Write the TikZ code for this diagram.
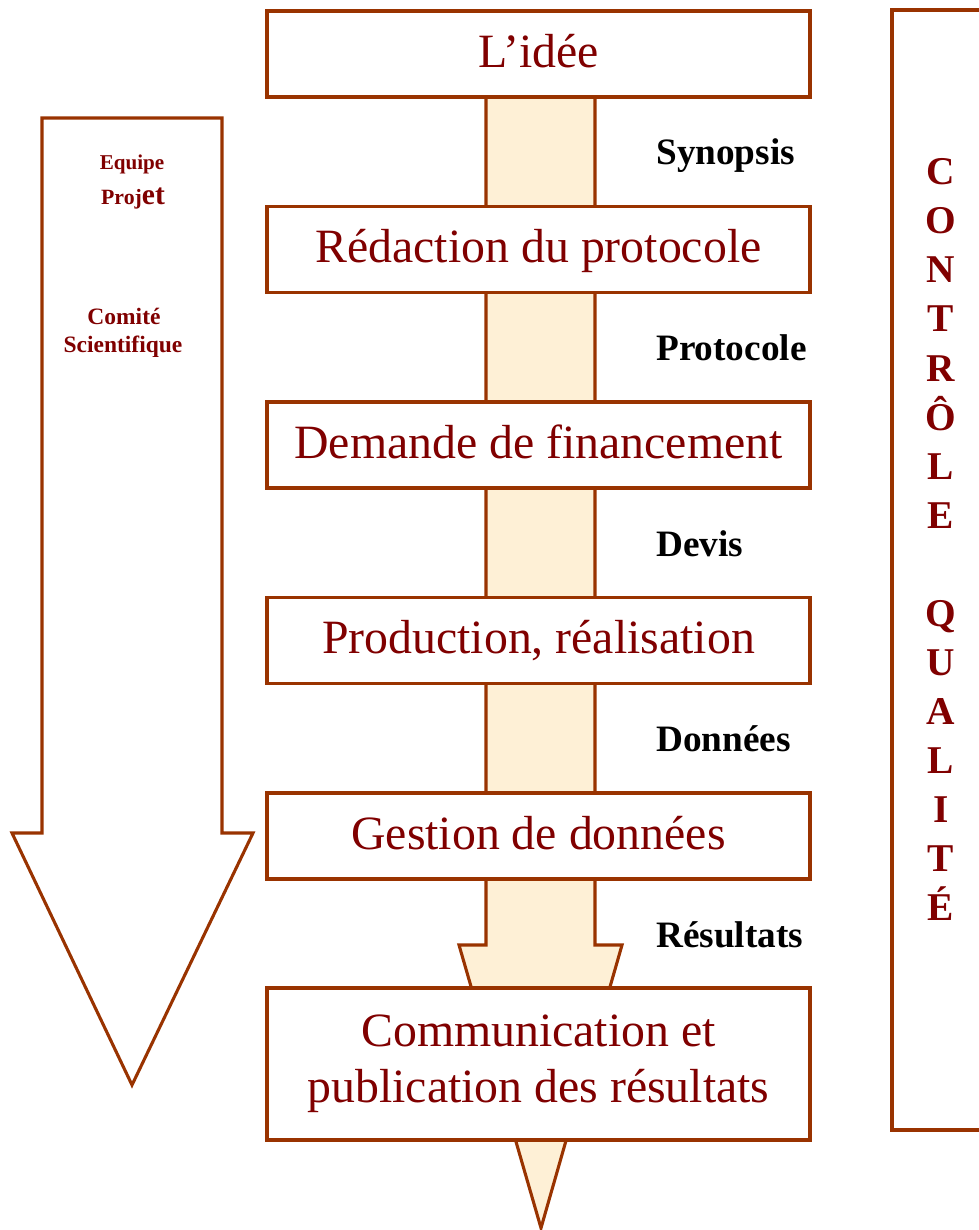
\documentclass[tikz,border=0pt]{standalone}
\usepackage{fontspec}
\setmainfont{Liberation Serif}
\usetikzlibrary{positioning}
\definecolor{rust}{HTML}{993300}
\definecolor{wine}{HTML}{800000}
\definecolor{cream}{HTML}{FEF0D6}
\begin{document}
\begin{tikzpicture}[x=0.25mm, y=-0.25mm,
  stage/.style = {draw=rust, line width=2.2pt, fill=white,
                  minimum width=135.75mm, minimum height=21.5mm, text=wine,
                  font=\fontsize{34}{40}\selectfont,
                  text height=25.5pt, text depth=6.8pt},
  laststage/.style = {draw=rust, line width=2.2pt, fill=white, align=center,
                  minimum width=135.75mm, minimum height=38mm, text=wine,
                  font=\fontsize{34}{40}\selectfont},
  flowlabel/.style = {anchor=base west, inner sep=0pt,
                  font=\bfseries\fontsize{26.5}{30}\selectfont},
  teamlabel/.style = {anchor=base, inner sep=0pt, text=wine,
                  font=\bfseries\fontsize{16.7}{20}\selectfont},
  qletter/.style = {anchor=base, inner sep=0pt, text=wine,
                  font=\bfseries\fontsize{28}{30}\selectfont}]
  \useasboundingbox (0,0) rectangle (978,1230);
  % draw left arrow
  \draw[rust, line width=2.2pt, line join=miter, fill=white]
        (42,118) -- (222,118) -- (222,833) -- (253,833)
        -- (132,1085) -- (12,833) -- (42,833) -- cycle;
  \node[teamlabel, font=\bfseries\fontsize{15}{18}\selectfont]
        (equipe) at (132,170) {Equipe};
  \node[teamlabel] (projet) at (133,205)
        {{\fontsize{15.5}{18}\selectfont Proj}{\fontsize{21}{22}\selectfont et}};
  \node[teamlabel] (comite) at (124,325) {Comité};
  \node[teamlabel] (scient) at (123,353) {Scientifique};
  % draw central arrow
  \draw[rust, line width=2.2pt, line join=miter, fill=cream]
        (486,54) -- (486,945) -- (459,945) -- (541,1228)
        -- (622,945) -- (595,945) -- (595,54) -- cycle;
  % draw the steps
  \node[stage] (idee)    at (538.5,54)    {L’idée};
  \node[stage] (redac)   at (538.5,249.5) {Rédaction du protocole};
  \node[stage] (finance) at (538.5,445)   {Demande de financement};
  \node[stage] (prod)    at (538.5,640.5) {Production, réalisation};
  \node[stage] (gestion) at (538.5,836)   {Gestion de données};
  \node[laststage] (comm) at (538.5,1064)
        {Communication et\\publication des résultats};
  % draw labels
  \node[flowlabel] (synopsis)  at (656,165)   {Synopsis};
  \node[flowlabel] (protocole) at (656,360.5) {Protocole};
  \node[flowlabel] (devis)     at (656,556)   {Devis};
  \node[flowlabel] (donnees)   at (656,751.5) {Données};
  \node[flowlabel] (resultats) at (656,947)   {Résultats};
  % draw quality box
  \draw[rust, line width=2.2pt, line join=miter]
        (992,10) -- (892,10) -- (892,1130) -- (992,1130);
  \foreach \ch [count=\i from 0] in {C,O,N,T,R,Ô,L,E,{},Q,U,A,L,I,T,É}
    \node[qletter] (q\i) at (941,{185+49*\i}) {\ch};
\end{tikzpicture}
\end{document}
